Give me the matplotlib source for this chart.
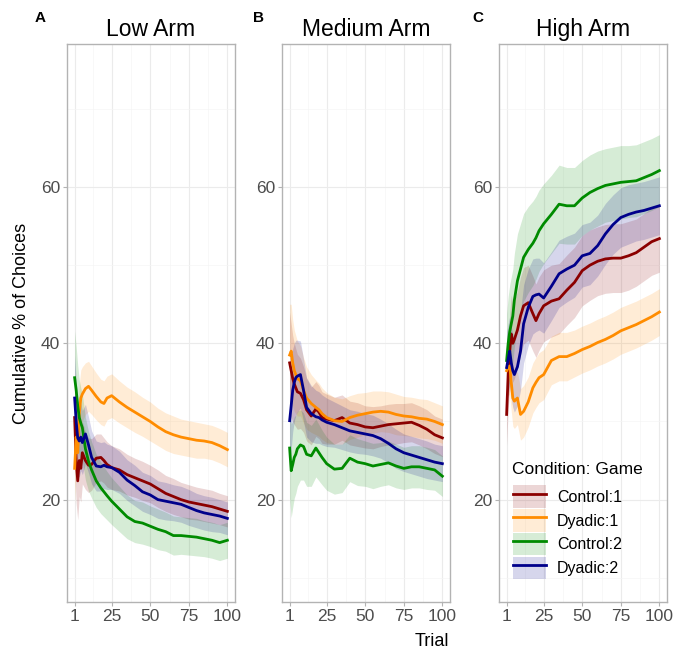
import numpy as np
import matplotlib
matplotlib.use('Agg')
import matplotlib.pyplot as plt
from matplotlib.patches import Patch
from matplotlib.lines import Line2D

plt.rcParams['font.family'] = ['Liberation Sans', 'DejaVu Sans']

trials = [1, 2, 3, 4, 5, 6, 8, 10, 12, 15, 18, 20, 22, 25, 30, 35, 40, 45, 50,
          55, 60, 65, 70, 75, 80, 85, 90, 95, 100]

panel_titles = ["Low Arm", "Medium Arm", "High Arm"]
panel_tags = ["A", "B", "C"]
series_labels = ["Control:1", "Dyadic:1", "Control:2", "Dyadic:2"]
series_colors = ["#8B0000", "#FF8C00", "#008B00", "#00008B"]

# Low arm: cumulative % of choices
low_control1 = [30.5, 25.0, 22.4, 25.0, 24.0, 26.0, 25.0, 24.4, 24.5, 25.3, 25.4, 25.0, 24.5, 24.1, 23.8,
                23.2, 22.8, 22.4, 22.0, 21.4, 20.8, 20.4, 20.0, 19.7, 19.5, 19.3, 19.1, 18.8, 18.5]
low_dyadic1 = [24.0, 28.0, 26.0, 31.0, 33.0, 33.5, 34.2, 34.5, 34.0, 33.2, 32.5, 32.3, 33.0, 33.3, 32.5,
               31.8, 31.2, 30.6, 30.0, 29.3, 28.7, 28.3, 28.0, 27.8, 27.6, 27.5, 27.3, 26.9, 26.4]
low_control2 = [35.6, 34.0, 32.0, 30.5, 29.8, 29.2, 26.5, 24.9, 23.8, 22.4, 21.5, 21.0, 20.5, 19.8, 18.8,
                17.8, 17.2, 17.0, 16.6, 16.2, 15.9, 15.4, 15.4, 15.3, 15.2, 15.0, 14.8, 14.5, 14.8]
low_dyadic2 = [33.0, 30.0, 27.9, 27.5, 28.0, 27.3, 28.4, 27.0, 25.4, 24.3, 24.2, 24.4, 24.2, 24.1, 23.5,
               22.5, 21.8, 21.0, 20.6, 20.0, 19.8, 19.6, 19.4, 19.0, 18.6, 18.3, 18.1, 17.9, 17.6]
# half widths of the shaded bands
low_control1_hw = [6.0, 5.5, 5.0, 4.6, 4.3, 4.0, 3.7, 3.5, 3.3, 3.1, 3.0, 2.9, 2.9, 2.8, 2.7,
                   2.6, 2.5, 2.5, 2.4, 2.4, 2.3, 2.3, 2.2, 2.2, 2.1, 2.1, 2.1, 2.0, 2.0]
low_dyadic1_hw = [4.5, 4.3, 4.0, 3.8, 3.6, 3.5, 3.3, 3.2, 3.1, 3.0, 2.9, 2.9, 2.8, 2.8, 2.7,
                  2.6, 2.6, 2.5, 2.5, 2.4, 2.4, 2.4, 2.3, 2.3, 2.3, 2.2, 2.2, 2.2, 2.2]
low_control2_hw = [6.0, 5.6, 5.2, 4.8, 4.5, 4.3, 4.0, 3.8, 3.6, 3.4, 3.3, 3.2, 3.1, 3.0, 2.9,
                   2.8, 2.7, 2.7, 2.6, 2.6, 2.5, 2.5, 2.4, 2.4, 2.4, 2.3, 2.3, 2.3, 2.3]
low_dyadic2_hw = [5.5, 5.2, 4.9, 4.6, 4.3, 4.1, 3.8, 3.6, 3.4, 3.2, 3.1, 3.0, 2.9, 2.8, 2.7,
                  2.6, 2.6, 2.5, 2.5, 2.4, 2.4, 2.3, 2.3, 2.3, 2.2, 2.2, 2.2, 2.1, 2.1]

# Medium arm
med_control1 = [37.5, 36.5, 35.5, 34.8, 34.3, 33.8, 33.6, 32.8, 31.5, 30.7, 31.6, 31.2, 30.5, 30.3, 30.1,
                30.5, 29.8, 29.6, 29.3, 29.2, 29.4, 29.6, 29.7, 29.8, 29.9, 29.5, 29.0, 28.3, 27.9]
med_dyadic1 = [38.5, 39.0, 37.5, 36.5, 36.0, 35.5, 35.2, 34.0, 33.0, 32.3, 31.8, 31.5, 31.0, 30.5, 30.1,
               30.0, 30.5, 30.8, 31.0, 31.2, 31.3, 31.2, 30.9, 30.7, 30.6, 30.4, 30.3, 30.0, 29.6]
med_control2 = [26.6, 23.7, 24.5, 25.4, 25.8, 26.5, 27.0, 26.8, 25.8, 25.6, 26.6, 26.0, 25.4, 24.6, 23.9,
                24.0, 25.3, 24.8, 24.6, 24.3, 24.5, 24.7, 24.3, 24.0, 24.2, 24.2, 24.0, 23.8, 23.0]
med_dyadic2 = [30.1, 32.0, 34.0, 35.0, 35.6, 35.8, 36.0, 34.0, 31.8, 31.0, 30.6, 30.5, 30.2, 29.9, 29.6,
               29.2, 28.8, 28.6, 28.4, 28.2, 27.8, 27.2, 26.5, 26.0, 25.7, 25.4, 25.1, 24.8, 24.6]
med_control1_hw = [6.5, 6.0, 5.5, 5.2, 5.0, 4.8, 4.5, 4.2, 4.0, 3.7, 3.5, 3.4, 3.3, 3.2, 3.0,
                   2.9, 2.8, 2.8, 2.7, 2.7, 2.6, 2.6, 2.6, 2.5, 2.5, 2.5, 2.5, 2.4, 2.4]
med_dyadic1_hw = [6.5, 6.0, 5.5, 5.2, 5.0, 4.8, 4.5, 4.2, 4.0, 3.7, 3.5, 3.4, 3.3, 3.2, 3.0,
                  2.9, 2.8, 2.8, 2.7, 2.7, 2.6, 2.6, 2.6, 2.5, 2.5, 2.5, 2.5, 2.4, 2.4]
med_control2_hw = [6.5, 6.0, 5.5, 5.2, 5.0, 4.8, 4.5, 4.3, 4.1, 3.9, 3.7, 3.6, 3.5, 3.4, 3.2,
                   3.1, 3.0, 3.0, 2.9, 2.9, 2.8, 2.8, 2.8, 2.7, 2.7, 2.7, 2.7, 2.6, 2.6]
med_dyadic2_hw = [6.0, 5.6, 5.3, 5.0, 4.8, 4.6, 4.3, 4.0, 3.8, 3.6, 3.4, 3.3, 3.2, 3.1, 2.9,
                  2.8, 2.7, 2.7, 2.6, 2.6, 2.5, 2.5, 2.5, 2.4, 2.4, 2.4, 2.4, 2.3, 2.3]

# High arm
high_control1 = [30.9, 36.1, 39.0, 41.2, 40.0, 40.5, 41.7, 43.5, 44.8, 45.2, 43.8, 42.9, 43.8, 44.8, 45.4,
                 45.7, 46.8, 47.8, 49.3, 50.0, 50.5, 50.8, 50.9, 50.9, 51.2, 51.6, 52.3, 53.0, 53.4]
high_dyadic1 = [36.5, 37.0, 37.1, 35.0, 33.0, 32.6, 33.0, 30.9, 31.3, 32.5, 34.3, 35.0, 35.6, 36.0, 37.8,
                38.3, 38.3, 38.7, 39.2, 39.6, 40.1, 40.5, 41.0, 41.6, 42.0, 42.4, 42.9, 43.4, 44.0]
high_control2 = [37.8, 40.0, 41.5, 42.5, 43.5, 45.5, 48.0, 49.5, 51.0, 52.0, 52.8, 53.5, 54.4, 55.3, 56.5,
                 57.8, 57.6, 57.6, 58.6, 59.3, 59.8, 60.2, 60.4, 60.6, 60.7, 60.8, 61.2, 61.6, 62.1]
high_dyadic2 = [36.9, 38.0, 39.0, 37.5, 36.5, 36.0, 37.0, 39.0, 42.5, 44.6, 46.0, 46.2, 46.3, 45.8, 47.3,
                48.9, 49.5, 50.0, 51.2, 51.5, 52.5, 54.0, 55.2, 56.1, 56.5, 56.8, 57.0, 57.3, 57.6]
high_control1_hw = [4.0, 4.5, 4.8, 5.0, 5.0, 5.0, 5.0, 5.0, 4.9, 4.8, 4.8, 4.7, 4.7, 4.6, 4.6,
                    4.5, 4.5, 4.5, 4.5, 4.5, 4.4, 4.4, 4.4, 4.4, 4.4, 4.3, 4.3, 4.3, 4.3]
high_dyadic1_hw = [3.5, 3.6, 3.7, 3.7, 3.6, 3.5, 3.4, 3.3, 3.3, 3.2, 3.2, 3.2, 3.2, 3.2, 3.1,
                   3.1, 3.1, 3.0, 3.0, 3.0, 3.0, 3.0, 3.0, 3.0, 3.0, 3.0, 3.0, 3.0, 3.0]
high_control2_hw = [6.0, 6.0, 6.0, 6.0, 6.0, 6.0, 6.0, 5.8, 5.6, 5.5, 5.4, 5.3, 5.2, 5.1, 5.0,
                    5.0, 4.9, 4.9, 4.8, 4.8, 4.8, 4.7, 4.7, 4.7, 4.6, 4.6, 4.6, 4.6, 4.6]
high_dyadic2_hw = [4.5, 4.5, 4.5, 4.6, 4.7, 4.8, 5.0, 5.0, 5.0, 4.9, 4.8, 4.7, 4.6, 4.5, 4.4,
                   4.3, 4.2, 4.1, 4.0, 4.0, 3.9, 3.9, 3.8, 3.8, 3.8, 3.7, 3.7, 3.7, 3.7]

panels = [
    ([low_control1, low_dyadic1, low_control2, low_dyadic2],
     [low_control1_hw, low_dyadic1_hw, low_control2_hw, low_dyadic2_hw]),
    ([med_control1, med_dyadic1, med_control2, med_dyadic2],
     [med_control1_hw, med_dyadic1_hw, med_control2_hw, med_dyadic2_hw]),
    ([high_control1, high_dyadic1, high_control2, high_dyadic2],
     [high_control1_hw, high_dyadic1_hw, high_control2_hw, high_dyadic2_hw]),
]

fig = plt.figure(figsize=(6.83, 6.52), dpi=100)
lefts = [67, 282, 499]
tag_x = [40, 258, 478]
x = np.array(trials)
grey_txt = "#4D4D4D"

for i, (vals, hws) in enumerate(panels):
    ax = fig.add_axes([lefts[i] / 683, 50 / 652, 168 / 683, 558 / 652])
    ax.set_facecolor("white")
    for v, h, c in zip(vals, hws, series_colors):
        v = np.array(v)
        h = np.array(h)
        ax.fill_between(x, v - h, v + h, color=c, alpha=0.16, linewidth=0)
    for v, c in zip(vals, series_colors):
        ax.plot(x, v, color=c, linewidth=2.0)

    ax.set_xlim(-3.95, 104.95)
    ax.set_ylim(6.9, 78.3)
    ax.set_xticks([1, 25, 50, 75, 100])
    ax.set_xticks([13, 37.5, 62.5, 87.5], minor=True)
    ax.set_yticks([20, 40, 60])
    ax.set_yticks([10, 30, 50, 70], minor=True)
    ax.grid(which="major", color="#EBEBEB", linewidth=0.8)
    ax.grid(which="minor", color="#F5F5F5", linewidth=0.5)
    ax.set_axisbelow(True)
    for s in ax.spines.values():
        s.set_color("#B3B3B3")
        s.set_linewidth(1.0)
    ax.tick_params(which="major", length=3, color="#B3B3B3", labelcolor=grey_txt,
                   labelsize=12.5, pad=2)
    ax.tick_params(which="minor", length=0)
    ax.set_title(panel_titles[i], fontsize=16.5, pad=6)
    fig.text(tag_x[i] / 683, 1 - 18 / 652, panel_tags[i], fontsize=11,
             fontweight="bold", ha="center", va="center")

    if i == 0:
        ax.set_ylabel("Cumulative % of Choices", fontsize=13, labelpad=8)
    if i == 2:
        handles = [(Patch(facecolor=c, alpha=0.16, edgecolor="none"),
                    Line2D([], [], color=c, linewidth=2.0)) for c in series_colors]
        ax.legend(handles, series_labels, loc="lower left",
                  bbox_to_anchor=(0.083, 0.041), frameon=False, fontsize=11.5,
                  handlelength=2.1, handleheight=1.8, labelspacing=0.07,
                  handletextpad=0.65, borderaxespad=0, borderpad=0)
        ax.text(0.077, (602 - 470) / 558, "Condition: Game", transform=ax.transAxes,
                fontsize=12.5, ha="left", va="center")

fig.text(432 / 683, 1 - 642 / 652, "Trial", fontsize=13, ha="center", va="center")

fig.savefig("out.png", dpi=100, facecolor="white")
